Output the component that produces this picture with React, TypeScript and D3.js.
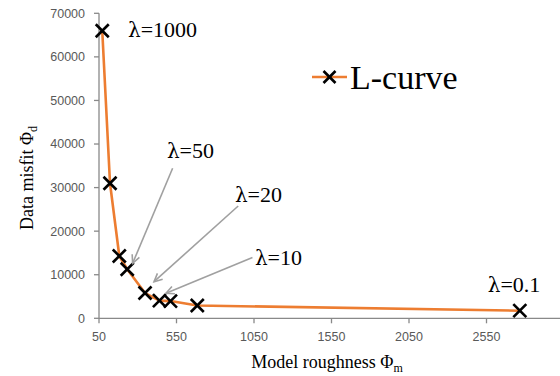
import React from "react";
import * as d3 from "d3";

const roughness = [71, 121, 181, 232, 347, 440, 511, 684, 2765];
const misfit = [66000, 31000, 14300, 11250, 5800, 4050, 3950, 2940, 1745];
const xTicks = [50, 550, 1050, 1550, 2050, 2550];
const yTicks = [0, 10000, 20000, 30000, 40000, 50000, 60000, 70000];
const labelValues = ["1000", "50", "20", "10", "0.1"];
const labelX = [237, 488, 927, 1056, 2558];
const labelY = [64560, 36790, 26690, 12230, 6100];
const arrowFromX = [525, 948, 1040];
const arrowFromY = [34430, 25770, 13950];
const arrowToX = [267, 405, 482];
const arrowToY = [12620, 8400, 5740];
const seriesName = "L-curve";

const W = 560;
const H = 376;
const x = d3.scaleLinear().domain([50, 3050]).range([99, 564]);
const y = d3.scaleLinear().domain([0, 70000]).range([318.3, 13.3]);

const ORANGE = "#ED7D31";
const AXIS = "#898989";
const TICKTXT = "#595959";
const ARROW = "#a0a0a0";
const serif = "Liberation Serif";
const greek = "DejaVu Serif";
const sans = "Liberation Sans";

function Cross({ cx, cy, r = 6.5 }: { cx: number; cy: number; r?: number }) {
  return (
    <g stroke="#000" strokeWidth={2.6} strokeLinecap="butt">
      <line x1={cx - r} y1={cy - r} x2={cx + r} y2={cy + r} />
      <line x1={cx - r} y1={cy + r} x2={cx + r} y2={cy - r} />
    </g>
  );
}

function Arrow({ x1, y1, x2, y2 }: { x1: number; y1: number; x2: number; y2: number }) {
  const ang = Math.atan2(y2 - y1, x2 - x1);
  const len = 9;
  const spread = 0.45;
  const a1x = x2 - len * Math.cos(ang - spread);
  const a1y = y2 - len * Math.sin(ang - spread);
  const a2x = x2 - len * Math.cos(ang + spread);
  const a2y = y2 - len * Math.sin(ang + spread);
  return (
    <g stroke={ARROW} strokeWidth={1.6} fill="none">
      <line x1={x1} y1={y1} x2={x2} y2={y2} />
      <polyline points={`${a1x},${a1y} ${x2},${y2} ${a2x},${a2y}`} />
    </g>
  );
}

export default function App() {
  const pts = roughness.map((r, i) => [x(r), y(misfit[i])] as [number, number]);
  const line = d3.line().curve(d3.curveLinear)(pts) || "";
  const x0 = x.range()[0];
  const y0 = y(0);
  return (
    <svg
      width={W}
      height={H}
      viewBox={`0 0 ${W} ${H}`}
      style={{ position: "absolute", left: 0, top: 0, background: "#fff" }}
    >
      {/* axes */}
      <line x1={x0} y1={y(70000)} x2={x0} y2={y0} stroke={AXIS} strokeWidth={1.3} />
      <line x1={x0} y1={y0} x2={W} y2={y0} stroke={AXIS} strokeWidth={1.3} />
      {yTicks.map((t) => (
        <g key={"y" + t}>
          <line x1={x0 - 5} x2={x0} y1={y(t)} y2={y(t)} stroke={AXIS} strokeWidth={1.3} />
          <text
            x={x0 - 14}
            y={y(t)}
            dy="0.35em"
            textAnchor="end"
            fontFamily={sans}
            fontSize={12.5}
            fill={TICKTXT}
          >
            {t}
          </text>
        </g>
      ))}
      {xTicks.map((t) => (
        <g key={"x" + t}>
          <line x1={x(t)} x2={x(t)} y1={y0} y2={y0 + 5} stroke={AXIS} strokeWidth={1.3} />
          <text
            x={x(t)}
            y={y0 + 18}
            dy="0.35em"
            textAnchor="middle"
            fontFamily={sans}
            fontSize={12.5}
            fill={TICKTXT}
          >
            {t}
          </text>
        </g>
      ))}

      {/* axis titles */}
      <text x={327} y={368} textAnchor="middle" fontFamily={serif} fontSize={18} fill="#000">
        Model roughness Φ
        <tspan fontSize={12} dy={4}>m</tspan>
      </text>
      <text
        transform="translate(33,178) rotate(-90)"
        textAnchor="middle"
        fontFamily={serif}
        fontSize={18}
        fill="#000"
      >
        Data misfit Φ
        <tspan fontSize={12} dy={4}>d</tspan>
      </text>

      {/* series */}
      <path d={line} fill="none" stroke={ORANGE} strokeWidth={2.6} strokeLinejoin="round" />
      {pts.map(([px, py], i) => (
        <Cross key={i} cx={px} cy={py} />
      ))}

      {/* arrows */}
      {arrowFromX.map((_, i) => (
        <Arrow
          key={"a" + i}
          x1={x(arrowFromX[i])}
          y1={y(arrowFromY[i])}
          x2={x(arrowToX[i])}
          y2={y(arrowToY[i])}
        />
      ))}

      {/* labels */}
      {labelValues.map((t, i) => (
        <text key={"l" + i} x={x(labelX[i])} y={y(labelY[i])} fontSize={22} fill="#000">
          <tspan fontFamily={greek} fontSize={20}>λ</tspan>
          <tspan fontFamily={serif}>={t}</tspan>
        </text>
      ))}

      {/* legend */}
      <line x1={312} x2={347} y1={77} y2={77} stroke={ORANGE} strokeWidth={2.6} />
      <Cross cx={329.5} cy={77} r={6} />
      <text x={350} y={89} fontFamily={serif} fontSize={34} fill="#000">
        {seriesName}
      </text>
    </svg>
  );
}
